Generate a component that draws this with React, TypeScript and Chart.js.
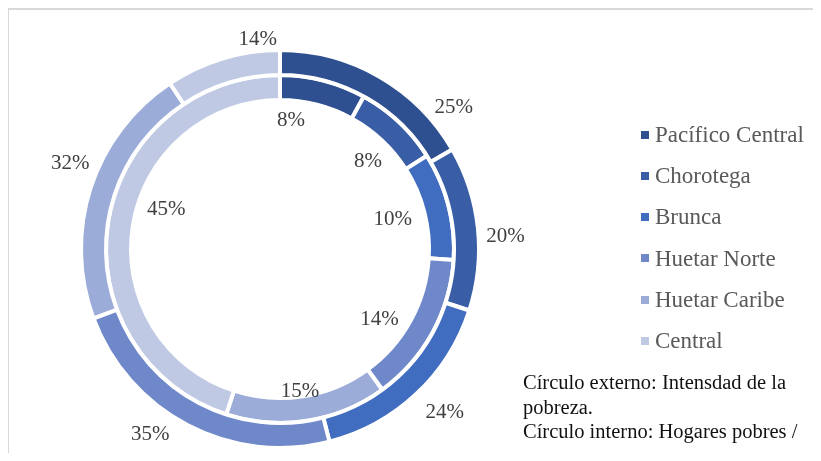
import React, { useEffect, useRef } from "react";
import { Chart, registerables } from "chart.js";

Chart.register(...registerables);

const categories = ["Pacífico Central", "Chorotega", "Brunca", "Huetar Norte", "Huetar Caribe", "Central"];
// outer ring: intensity of poverty (%)
const intensity = [25, 20, 24, 35, 32, 14];
// inner ring: poor households (%)
const households = [8, 8, 10, 14, 15, 45];
const colors = ["#2E5090", "#395EA6", "#416DC0", "#6E88CA", "#9CACD9", "#BFC9E4"];
const noteLines = ["Círculo externo: Intensdad de la", "pobreza.", "Círculo interno: Hogares pobres /"];

// label placement tweaks (angle nudge in degrees, distance from centre in px)
const outerLabelAngle = [20.6, 2.5, -2.3, 7.6, 4.5, 10.8];
const outerLabelRadius = [225, 226, 231, 225, 227, 212];
const innerLabelAngle = [-9.5, 1.5, -0.9, 5.8, 0.9, 11];
const innerLabelRadius = [130, 125, 117, 121, 142, 121];

const FONT = "'Liberation Serif', 'Times New Roman', serif";

const labelPlugin = {
  id: "ringLabels",
  afterDatasetsDraw(chart: any) {
    const ctx = chart.ctx;
    ctx.save();
    ctx.font = `21px ${FONT}`;
    ctx.fillStyle = "#404040";
    ctx.textAlign = "center";
    ctx.textBaseline = "middle";
    chart.data.datasets.forEach((ds: any, di: number) => {
      const meta = chart.getDatasetMeta(di);
      const angs = di === 0 ? outerLabelAngle : innerLabelAngle;
      const rads = di === 0 ? outerLabelRadius : innerLabelRadius;
      meta.data.forEach((arc: any, i: number) => {
        const p = arc.getProps(["x", "y", "startAngle", "endAngle"], true);
        const mid = (p.startAngle + p.endAngle) / 2 + (angs[i] * Math.PI) / 180;
        const r = rads[i];
        const x = p.x + Math.cos(mid) * r;
        const y = p.y + Math.sin(mid) * r + 1.5;
        ctx.fillText(`${ds.data[i]}%`, x, y);
      });
    });
    ctx.restore();
  },
};

export default function App() {
  const ref = useRef<HTMLCanvasElement | null>(null);

  useEffect(() => {
    if (!ref.current) return;
    const chart = new Chart(ref.current, {
      type: "doughnut",
      data: {
        labels: categories,
        datasets: [
          { label: "Intensidad", data: intensity, backgroundColor: colors, borderColor: "#ffffff", borderWidth: 4 },
          { label: "Hogares pobres", data: households, backgroundColor: colors, borderColor: "#ffffff", borderWidth: 4 },
        ],
      },
      options: {
        responsive: false,
        animation: false,
        radius: 199,
        cutout: 149,
        layout: { padding: { left: 0, right: 248, top: 38, bottom: 0 } },
        plugins: { legend: { display: false }, tooltip: { enabled: false } },
      } as any,
      plugins: [labelPlugin],
    });
    return () => chart.destroy();
  }, []);

  return (
    <div
      style={{
        position: "relative",
        marginLeft: -1,
        width: 812,
        height: 443,
        borderTop: "2px solid #d9d9d9",
        borderLeft: "2px solid #d9d9d9",
        overflow: "hidden",
        fontFamily: FONT,
      }}
    >
      <canvas ref={ref} width={790} height={440} style={{ position: "absolute", left: 0, top: 0, width: 790, height: 440 }} />
      {categories.map((c, i) => (
        <div
          key={c}
          style={{
            position: "absolute",
            left: 632,
            top: 125 + i * 41.2 - 13,
            height: 26,
            lineHeight: "26px",
            fontSize: 23,
            color: "#595959",
            whiteSpace: "nowrap",
          }}
        >
          <span
            style={{
              display: "inline-block",
              width: 8,
              height: 8,
              background: colors[i],
              marginRight: 6,
              verticalAlign: "middle",
              position: "relative",
              top: -2,
            }}
          />
          {c}
        </div>
      ))}
      <div
        style={{
          position: "absolute",
          left: 514,
          top: 360,
          fontSize: 20.5,
          lineHeight: "24.5px",
          color: "#111",
          whiteSpace: "nowrap",
        }}
      >
        {noteLines.map((l, i) => (
          <div key={i}>{l}</div>
        ))}
      </div>
    </div>
  );
}
